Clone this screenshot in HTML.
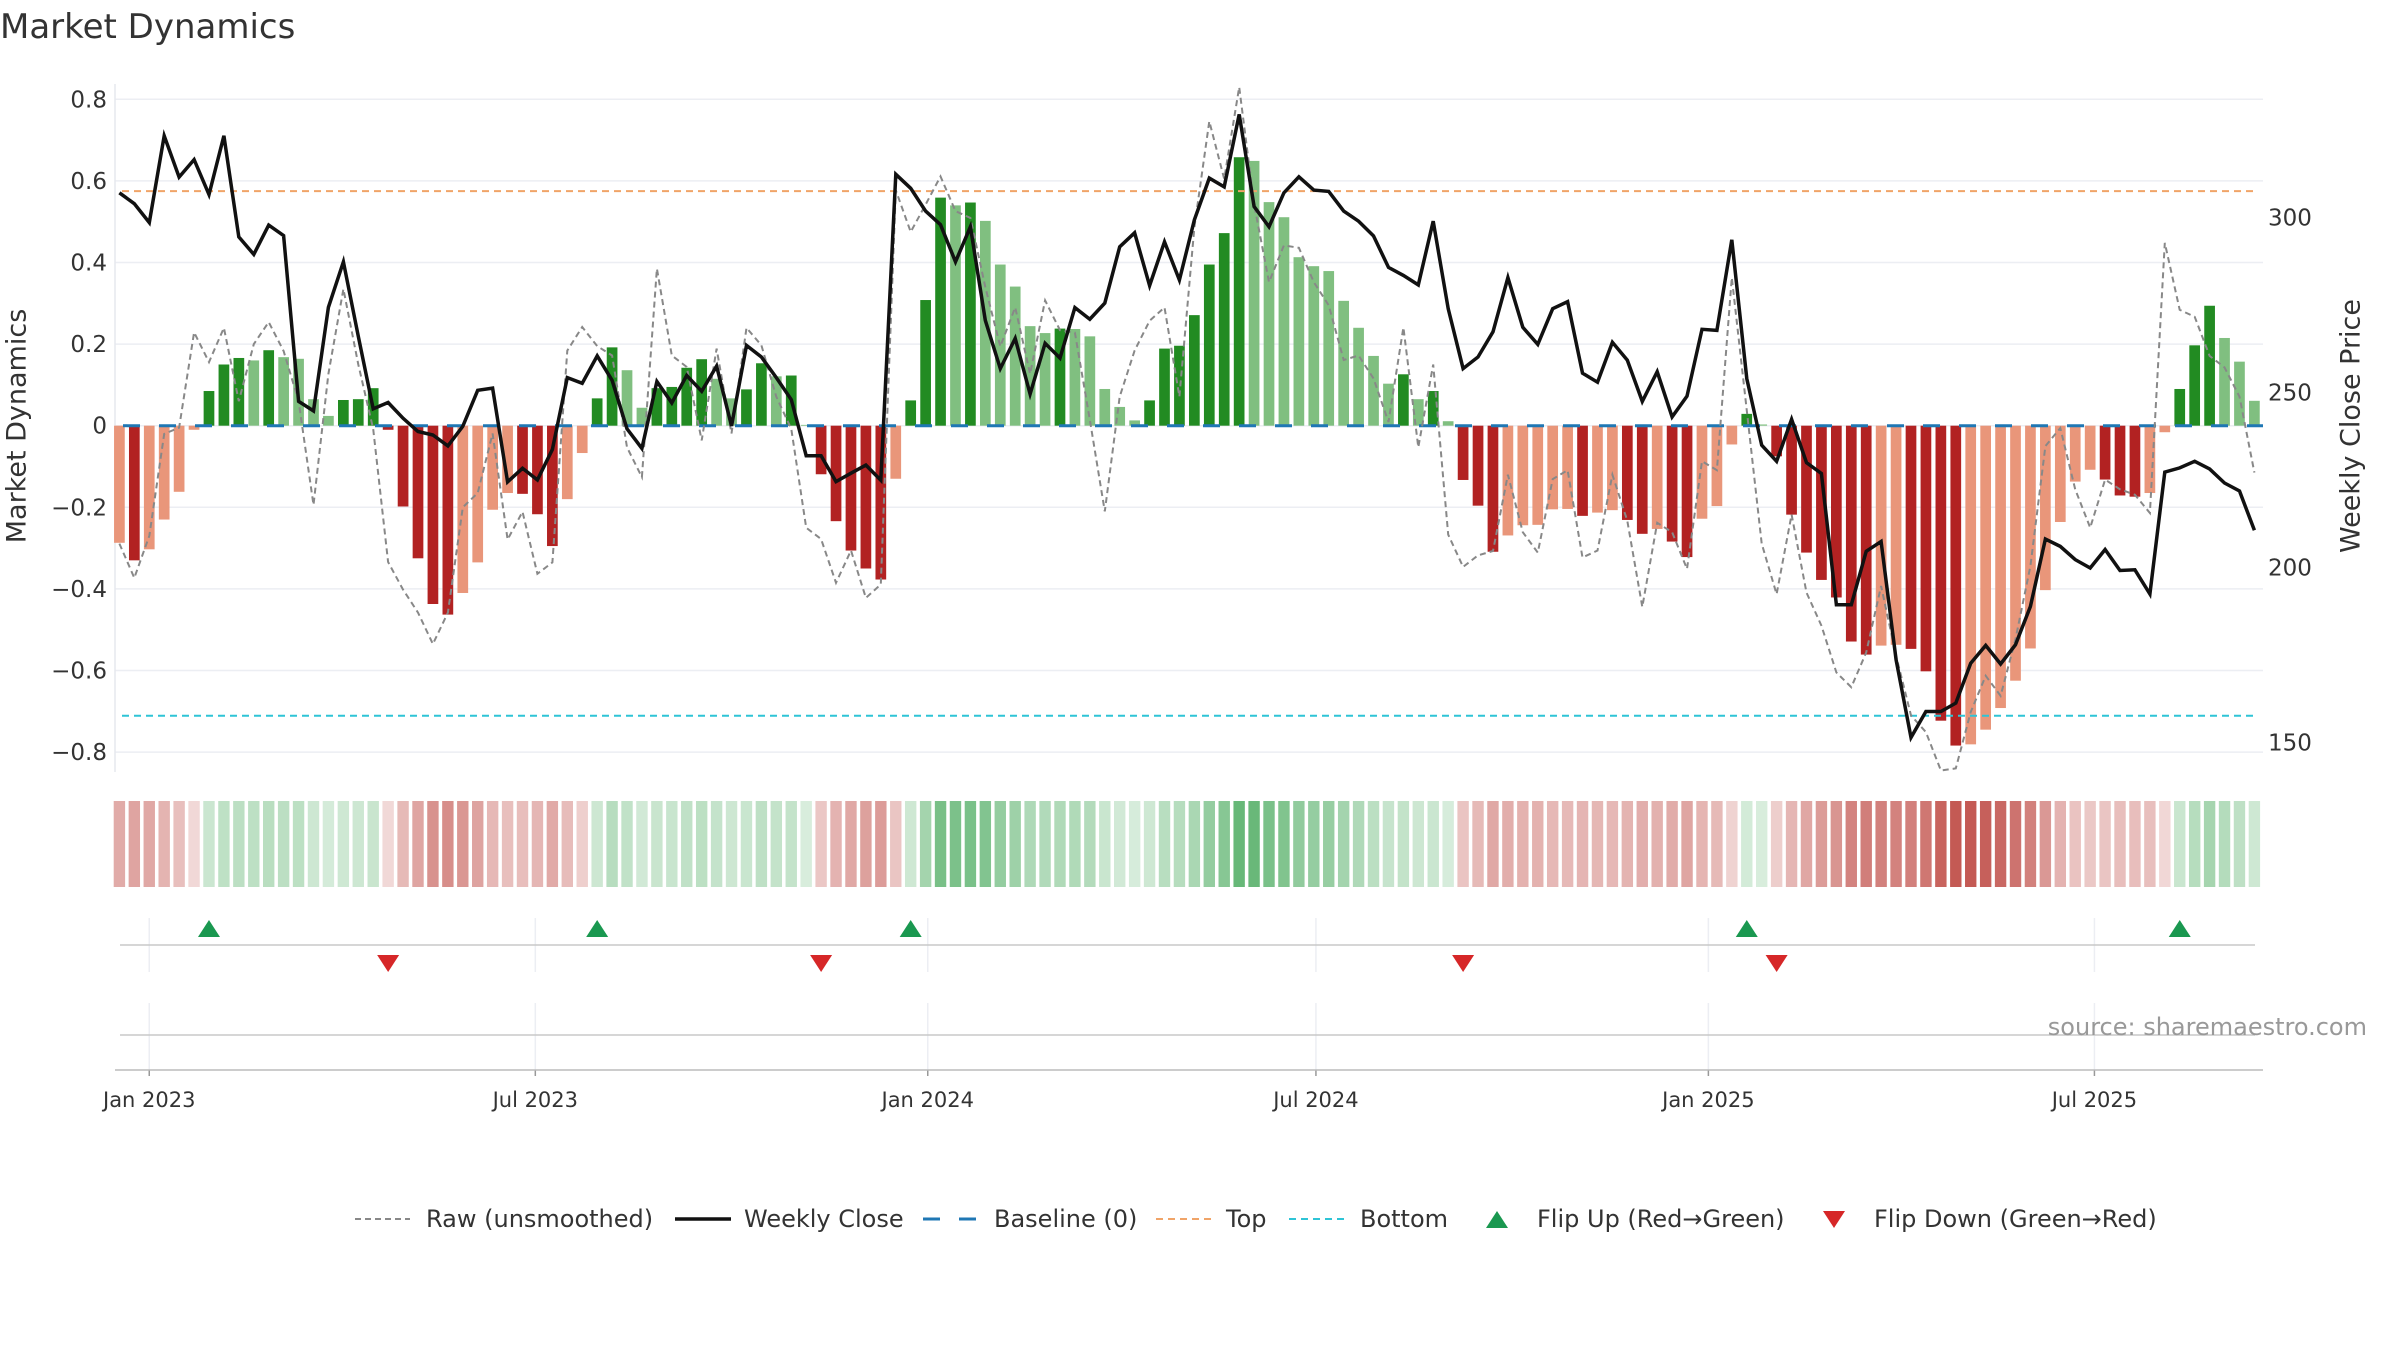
<!DOCTYPE html>
<html><head><meta charset="utf-8"><title>Market Dynamics</title>
<style>
html,body{margin:0;padding:0;background:#fff;}
svg{display:block;font-family:"DejaVu Sans","Liberation Sans",sans-serif;}
</style></head>
<body>
<svg id="chart" xmlns="http://www.w3.org/2000/svg" width="2400" height="1350" viewBox="0 0 2400 1350">
<rect width="2400" height="1350" fill="#fff"/>
<text x="0" y="38" font-size="34" fill="#333">Market Dynamics</text>
<g id="grid"></g>
<g id="heat"></g>
<g id="flips"></g>
<g id="bars"></g>
<g id="lines"></g>
<g id="axes"></g>
<text x="18" y="426" font-size="27" fill="#333" text-anchor="middle" transform="rotate(-90 18 426)" dominant-baseline="middle">Market Dynamics</text>
<text x="2352" y="426" font-size="27" fill="#333" text-anchor="middle" transform="rotate(-90 2352 426)" dominant-baseline="middle">Weekly Close Price</text>
<text x="2367" y="1035" font-size="24" fill="#999" text-anchor="end">source: sharemaestro.com</text>
<g id="legend" font-size="24" fill="#333">
  <g><line x1="355" y1="1219" x2="410" y2="1219" stroke="#888" stroke-width="2" stroke-dasharray="6,4"/><text x="426" y="1227">Raw (unsmoothed)</text></g>
  <g><line x1="675" y1="1219" x2="731" y2="1219" stroke="#111" stroke-width="3.5"/><text x="744" y="1227">Weekly Close</text></g>
  <g><line x1="923" y1="1219" x2="980" y2="1219" stroke="#1f77b4" stroke-width="3" stroke-dasharray="17,19"/><text x="994" y="1227">Baseline (0)</text></g>
  <g><line x1="1156" y1="1219" x2="1213" y2="1219" stroke="#f0a468" stroke-width="2" stroke-dasharray="7,5"/><text x="1226" y="1227">Top</text></g>
  <g><line x1="1289" y1="1219" x2="1344" y2="1219" stroke="#2ec4d6" stroke-width="2" stroke-dasharray="7,5"/><text x="1360" y="1227">Bottom</text></g>
  <g><polygon points="1486,1228 1508,1228 1497,1211" fill="#1a9850"/><text x="1537" y="1227">Flip Up (Red→Green)</text></g>
  <g><polygon points="1823,1211 1845,1211 1834,1228" fill="#d62728"/><text x="1874" y="1227">Flip Down (Green→Red)</text></g>
</g>
</svg>
<script>
const startDate = "2022-12-18";
const momentum = [-0.287,-0.33,-0.303,-0.23,-0.162,-0.01,0.085,0.15,0.166,0.16,0.185,0.168,0.164,0.065,0.024,0.063,0.065,0.092,-0.01,-0.198,-0.325,-0.437,-0.463,-0.41,-0.335,-0.206,-0.165,-0.167,-0.217,-0.295,-0.18,-0.067,0.067,0.192,0.136,0.044,0.092,
0.095,0.142,0.163,0.115,0.067,0.089,0.153,0.121,0.123,0.002,-0.119,-0.234,-0.306,-0.35,-0.377,-0.13,0.062,0.308,0.559,0.54,0.547,0.502,0.395,0.341,0.244,0.227,0.238,0.237,0.219,0.09,0.046,0.013,0.062,0.189,0.196,0.271,0.395,
0.472,0.658,0.649,0.548,0.511,0.413,0.391,0.379,0.306,0.24,0.171,0.103,0.126,0.065,0.085,0.011,-0.133,-0.196,-0.309,-0.269,-0.244,-0.243,-0.205,-0.204,-0.221,-0.213,-0.207,-0.231,-0.265,-0.253,-0.284,-0.322,-0.228,-0.197,-0.046,0.029,0.003,
-0.075,-0.218,-0.311,-0.378,-0.421,-0.529,-0.561,-0.539,-0.537,-0.547,-0.602,-0.723,-0.784,-0.781,-0.745,-0.692,-0.625,-0.546,-0.403,-0.236,-0.137,-0.108,-0.132,-0.171,-0.174,-0.165,-0.016,0.09,0.197,0.294,0.215,0.157,0.061];
const closePrice = [307.1,304.0,298.6,323.4,311.6,316.6,306.6,323.4,294.5,289.5,297.9,294.9,247.5,244.8,274.4,287.4,266.1,245.4,247.2,242.7,238.9,237.9,234.8,240.4,250.7,251.3,224.5,228.4,225.1,233.8,254.3,252.7,260.5,253.5,239.7,234.1,253.2,
247.1,254.9,250.4,257.6,240.5,263.5,260.2,254.3,248.0,232.0,232.0,224.6,227.0,229.3,225.0,312.4,308.4,301.9,298.0,287.4,297.4,270.7,256.9,265.5,249.6,264.1,259.9,274.3,271.0,275.6,291.7,295.7,280.6,293.1,282.2,299.4,311.3,
308.8,329.5,303.2,297.4,307.1,311.7,307.9,307.5,301.9,299.0,294.8,285.8,283.5,280.8,299.0,274.0,256.9,260.2,267.4,282.9,268.7,263.8,274.0,276.0,255.6,253.0,264.4,259.3,247.5,256.0,243.1,249.0,268.1,267.8,293.7,254.0,235.0,
230.4,242.4,230.0,226.9,189.4,189.4,204.7,207.5,173.7,151.5,158.9,158.9,161.3,172.7,177.8,172.5,178.0,188.9,208.2,206.1,202.3,199.9,205.2,199.2,199.4,192.5,227.3,228.5,230.4,228.2,224.2,221.9,210.7];
const rawValues = [-0.289,-0.373,-0.27,-0.02,-0.005,0.229,0.156,0.24,0.06,0.2,0.254,0.183,0.06,-0.194,0.127,0.335,0.15,-0.008,-0.334,-0.402,-0.458,-0.535,-0.458,-0.2,-0.165,-0.019,-0.279,-0.211,-0.363,-0.335,0.184,0.242,0.195,0.172,-0.053,-0.126,0.385,
0.172,0.144,-0.036,0.189,-0.019,0.24,0.197,0.071,-0.008,-0.25,-0.278,-0.385,-0.306,-0.422,-0.389,0.577,0.475,0.542,0.611,0.526,0.509,0.34,0.194,0.29,0.127,0.307,0.234,0.228,0.015,-0.21,0.071,0.184,0.257,0.29,0.071,0.487,0.746,
0.605,0.83,0.543,0.352,0.442,0.436,0.352,0.295,0.161,0.172,0.116,0.009,0.241,-0.053,0.15,-0.267,-0.346,-0.318,-0.307,-0.12,-0.261,-0.311,-0.131,-0.109,-0.323,-0.306,-0.12,-0.233,-0.444,-0.238,-0.261,-0.351,-0.087,-0.109,0.363,0.037,-0.289,
-0.413,-0.218,-0.409,-0.49,-0.605,-0.641,-0.556,-0.393,-0.564,-0.71,-0.751,-0.845,-0.84,-0.702,-0.613,-0.662,-0.523,-0.344,-0.05,-0.006,-0.156,-0.25,-0.132,-0.156,-0.169,-0.214,0.448,0.284,0.267,0.171,0.143,0.071,-0.115];
const leftTicks = [0.8,0.6,0.4,0.2,0,-0.2,-0.4,-0.6,-0.8];
const leftTickLabels = ["0.8","0.6","0.4","0.2","0","−0.2","−0.4","−0.6","−0.8"];
const rightTicks = [300,250,200,150];
const xTickDates = ["2023-01-01","2023-07-01","2024-01-01","2024-07-01","2025-01-01","2025-07-01"];
const xTickLabels = ["Jan 2023","Jul 2023","Jan 2024","Jul 2024","Jan 2025","Jul 2025"];
const topLevel = 0.575;
const bottomLevel = -0.711;

const NS="http://www.w3.org/2000/svg";
const X0=119.4, STEP=14.93, PL=115, PR=2263;
function xi(i){return X0+i*STEP;}
function xd(d){const days=(Date.parse(d)-Date.parse(startDate))/86400000;return X0+days/7*STEP;}
function yL(v){return 425.7-v*408;}
function yR(p){return 217.7+(300-p)*3.5;}
function mk(tag,attrs,parent){const e=document.createElementNS(NS,tag);for(const k in attrs)e.setAttribute(k,attrs[k]);parent.appendChild(e);return e;}
const grid=document.getElementById('grid'),axes=document.getElementById('axes'),bars=document.getElementById('bars'),lines=document.getElementById('lines'),heat=document.getElementById('heat'),flips=document.getElementById('flips');

leftTicks.forEach((v,k)=>{
  const g=mk('line',{x1:PL,x2:PR,y1:yL(v),y2:yL(v),stroke:'#eceef3','stroke-width':1.5},grid);
  
  
  const t=mk('text',{x:107,y:yL(v)+8,'font-size':23,fill:'#333','text-anchor':'end'},axes);
  t.textContent=leftTickLabels[k];
  
  
});
const sp=mk('line',{x1:PL,x2:PL,y1:84,y2:772,stroke:'#e6e8ee','stroke-width':1.5},grid);


rightTicks.forEach(p=>{
  const t=mk('text',{x:2268,y:yR(p)+8,'font-size':23,fill:'#333'},axes);
  t.textContent=String(p);
  
  
});

// bars
momentum.forEach((v,i)=>{
  const prev=i>0?momentum[i-1]:v;
  let c;
  if(v>=0) c=(v>prev)?'#228b22':'#80bf80'; else c=(v<prev)?'#b22222':'#e9967a';
  const y0=yL(0),y1=yL(v);
  const r=mk('rect',{x:xi(i)-5.35,width:10.7,y:Math.min(y0,y1),height:Math.max(0.5,Math.abs(y1-y0)),fill:c},bars);
  
  
  // heat strip
  const a=0.22+0.78*Math.min(Math.abs(v)/0.8,1);
  const hc=v>=0?'rgba(70,168,90,'+(a*0.95).toFixed(3)+')':'rgba(192,78,72,'+(a*0.95).toFixed(3)+')';
  const h=mk('rect',{x:xi(i)-5.7,width:11.4,y:801,height:86,fill:hc},heat);
  
  
});

// reference lines
const bl=mk('line',{x1:PL,x2:PR,y1:yL(0),y2:yL(0),stroke:'#1f77b4','stroke-width':3,'stroke-dasharray':'17,19','stroke-dashoffset':-8},lines);


const tl=mk('line',{x1:122,x2:2255,y1:yL(topLevel),y2:yL(topLevel),stroke:'#f0a468','stroke-width':2,'stroke-dasharray':'7,5'},lines);


const btl=mk('line',{x1:122,x2:2255,y1:yL(bottomLevel),y2:yL(bottomLevel),stroke:'#2ec4d6','stroke-width':2,'stroke-dasharray':'7,5'},lines);



const rawPts=rawValues.map((v,i)=>xi(i).toFixed(1)+','+yL(v).toFixed(1)).join(' ');
const rl=mk('polyline',{points:rawPts,fill:'none',stroke:'#888','stroke-width':2,'stroke-dasharray':'6,4'},lines);


const clPts=closePrice.map((p,i)=>xi(i).toFixed(1)+','+yR(p).toFixed(1)).join(' ');
const cl=mk('polyline',{points:clPts,fill:'none',stroke:'#111','stroke-width':3.5,'stroke-linejoin':'miter'},lines);



// flip panel & bottom panel
xTickDates.forEach((d,k)=>{
  const x=xd(d);
  const g1=mk('line',{x1:x,x2:x,y1:918,y2:972,stroke:'#eceef3','stroke-width':1.5},flips);
  
  
  const g2=mk('line',{x1:x,x2:x,y1:1003,y2:1070,stroke:'#eceef3','stroke-width':1.5},flips);
  
  
  const tk=mk('line',{x1:x,x2:x,y1:1070,y2:1076,stroke:'#999','stroke-width':1.5},axes);
  
  
  const t=mk('text',{x:x,y:1107,'font-size':21,fill:'#333','text-anchor':'middle'},axes);
  t.textContent=xTickLabels[k];
  
  
});
const fl=mk('line',{x1:120,x2:2255,y1:945,y2:945,stroke:'#c8c8c8','stroke-width':1.5},flips);


const pl2=mk('line',{x1:120,x2:2255,y1:1035,y2:1035,stroke:'#c8c8c8','stroke-width':1.5},flips);


const xs=mk('line',{x1:PL,x2:PR,y1:1070,y2:1070,stroke:'#bbb','stroke-width':1.5},axes);


for(let i=1;i<momentum.length;i++){
  const a=momentum[i-1]>=0, b=momentum[i]>=0;
  if(a===b) continue;
  const x=xi(i);
  if(b){
    const t=mk('polygon',{points:(x-11)+',937 '+(x+11)+',937 '+x+',920',fill:'#1a9850'},flips);
    
    
  } else {
    const t=mk('polygon',{points:(x-11)+',955 '+(x+11)+',955 '+x+',972',fill:'#d62728'},flips);
    
    
  }
}
</script>
</body></html>
